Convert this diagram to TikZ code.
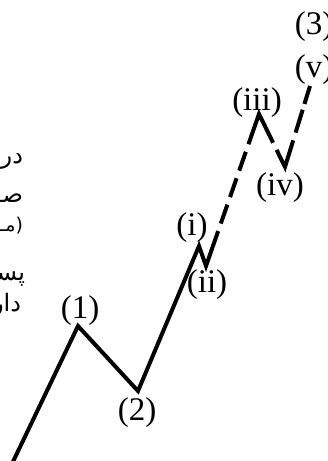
\documentclass[tikz,border=0pt]{standalone}
\usepackage{fontspec}
\setmainfont{Liberation Serif}
\newfontfamily\farsi[Script=Arabic]{DejaVu Sans}
\TeXXeTstate=1

\begin{document}
\begin{tikzpicture}[x=1pt,y=-1pt,every node/.style={inner sep=0pt, outer sep=0pt},
  wave/.style={line width=4pt, line join=miter},
  lbl/.style={font=\fontsize{33}{33}\selectfont},
  fa/.style={font=\farsi\fontsize{24}{24}\selectfont, anchor=east}]
\useasboundingbox (0,0) rectangle (328,461);
% the wave
\coordinate (w0) at (9,470);
\coordinate (w1) at (78,326);
\coordinate (w2) at (138,391);
\coordinate (wi) at (199,246);
\coordinate (wii) at (206,266);
\coordinate (wiii) at (259,114);
\coordinate (wiv) at (285,167);
\coordinate (wv) at (310,86);
\draw[wave, dash pattern=on 463.6pt off 8pt on 20pt off 8pt on 20pt off 8pt on 20pt off 8pt on 64pt off 8pt on 47pt off 8pt on 24pt off 6pt on 25pt]
  (w0) -- (w1) -- (w2) -- (wi) -- (wii) -- (wiii) -- (wiv) -- (wv);
% labels
\node[lbl] (l1) at (80,311) {(1)};
\node[lbl] (l2) at (137,413) {(2)};
\node[lbl] (li) at (192,228) {(i)};
\node[lbl] (lii) at (207,285) {(ii)};
\node[lbl] (liii) at (257,103) {(iii)};
\node[lbl] (liv) at (280,188) {(iv)};
\node[lbl] (lv) at (314,70) {(v)};
\node[lbl] (l3) at (314,27) {(3)};
% cut text on the left
\node[fa] (t1) at (23,161) {\beginR در\endR};
\node[fa] (t2) at (23,198) {\beginR صـ\endR};
\node[fa, font=\farsi\fontsize{19}{19}\selectfont] (t3) at (23,226) {\beginR (مـ\endR};
\node[fa] (t4) at (25,279) {\beginR پسـ\endR};
\node[fa] (t5) at (21,305) {\beginR دار\endR};
\end{tikzpicture}
\end{document}
